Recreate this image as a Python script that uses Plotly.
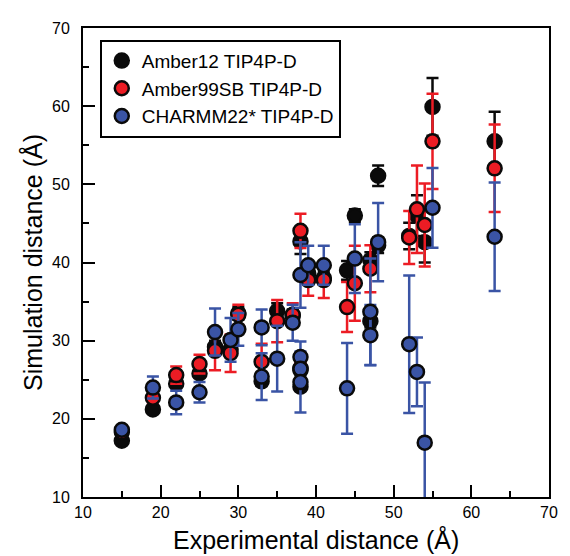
import plotly.graph_objects as go

# Amber12 TIP4P-D
amber12_x = [15, 19, 22, 25, 27, 29, 30, 33, 35, 37, 38, 38, 38, 39, 41, 44, 45, 47, 47, 48, 48, 52, 53, 54, 55, 63]
amber12_y = [17.2, 21.2, 24.5, 25.8, 29.2, 28.9, 33.5, 24.8, 33.8, 33.2, 42.7, 26.5, 24.1, 38.6, 38.0,
             39.0, 46.0, 40.3, 32.5, 51.1, 42.2, 43.4, 46.0, 42.6, 59.9, 55.5]
amber12_err = [0.3, 0.4, 0.5, 0.5, 0.8, 0.8, 0.8, 0.5, 1.0, 0.8, 1.6, 0.5, 0.5, 0.8, 0.8,
               1.2, 0.8, 1.0, 0.8, 1.3, 1.0, 1.7, 2.6, 2.6, 3.7, 3.8]

# Amber99SB TIP4P-D
amber99_x = [15, 19, 22, 25, 27, 29, 30, 33, 35, 37, 38, 38, 39, 41, 44, 45, 47, 52, 53, 54, 55, 63]
amber99_y = [18.3, 22.7, 25.6, 27.0, 28.7, 28.4, 33.3, 27.3, 32.5, 33.3, 44.05, 26.2, 37.75, 37.75,
             34.3, 37.35, 39.2, 43.2, 46.8, 44.8, 55.5, 52.05]
amber99_err = [0.3, 0.6, 1.1, 1.2, 2.5, 2.4, 1.3, 2.3, 2.7, 1.5, 2.2, 1.0, 2.0, 2.3,
               3.2, 4.8, 3.0, 3.4, 5.6, 5.3, 6.1, 5.6]

# CHARMM22* TIP4P-D
charmm_x = [15, 19, 22, 25, 27, 29, 30, 33, 33, 35, 37, 38, 38, 38, 38, 39, 41, 44, 45, 47, 47, 48, 52, 53, 54, 55, 63]
charmm_y = [18.6, 24.0, 22.1, 23.4, 31.1, 30.1, 31.45, 31.7, 25.4, 27.7, 32.3, 38.4, 27.9, 26.4, 24.7,
            39.65, 39.65, 23.9, 40.5, 33.7, 30.7, 42.6, 29.55, 26.0, 16.95, 47.0, 43.3]
charmm_err = [0.3, 1.4, 1.5, 1.3, 3.0, 2.8, 2.1, 2.3, 3.0, 4.2, 2.3, 4.2, 2.0, 1.5, 3.9,
              2.5, 2.5, 5.8, 4.4, 6.8, 3.85, 5.0, 8.8, 4.4, 7.7, 5.1, 6.95]

series = [
    ('Amber12 TIP4P-D', amber12_x, amber12_y, amber12_err, '#0a0a0a'),
    ('Amber99SB TIP4P-D', amber99_x, amber99_y, amber99_err, '#ec1c24'),
    ('CHARMM22* TIP4P-D', charmm_x, charmm_y, charmm_err, '#3a54a5'),
]

fig = go.Figure()
for name, xs, ys, errs, color in series:
    fig.add_trace(go.Scatter(
        x=xs, y=ys, name=name, mode='markers',
        marker=dict(size=14, color=color, line=dict(color='#0a0a0a', width=2.5)),
        error_y=dict(type='data', array=errs, color=color, thickness=2.5, width=6),
    ))

font = 'Liberation Sans, Arial, sans-serif'
axis = dict(
    showline=True, linewidth=2, linecolor='black', mirror=True,
    ticks='inside', ticklen=12, tickwidth=2, tickcolor='black',
    minor=dict(ticks='inside', ticklen=6, tickwidth=2, tickcolor='black', dtick=5),
    showgrid=False, zeroline=False,
    tickfont=dict(family=font, size=16, color='black'),
    dtick=10,
)

# the page body keeps its default 8px margin, so the figure is 8px smaller
fig.update_layout(
    width=562, height=548,
    margin=dict(l=75, r=12, t=13, b=59),
    plot_bgcolor='white', paper_bgcolor='white',
    xaxis=dict(axis, range=[10, 70]),
    yaxis=dict(axis, range=[10, 70], ticklabelstandoff=8,
               title=dict(text='Simulation distance (Å)', font=dict(family=font, size=25, color='black'), standoff=2)),
    legend=dict(x=0.036, y=0.975, xanchor='left', yanchor='top',
                bordercolor='black', borderwidth=2, bgcolor='white',
                font=dict(family=font, size=19, color='black'),
                tracegroupgap=0, itemwidth=30),
)

fig.add_annotation(text='Experimental distance (Å)', xref='paper', yref='paper',
                   x=0.5, y=-0.09, xanchor='center', yanchor='middle', showarrow=False,
                   font=dict(family=font, size=25, color='black'))

fig.write_html('out.html')
